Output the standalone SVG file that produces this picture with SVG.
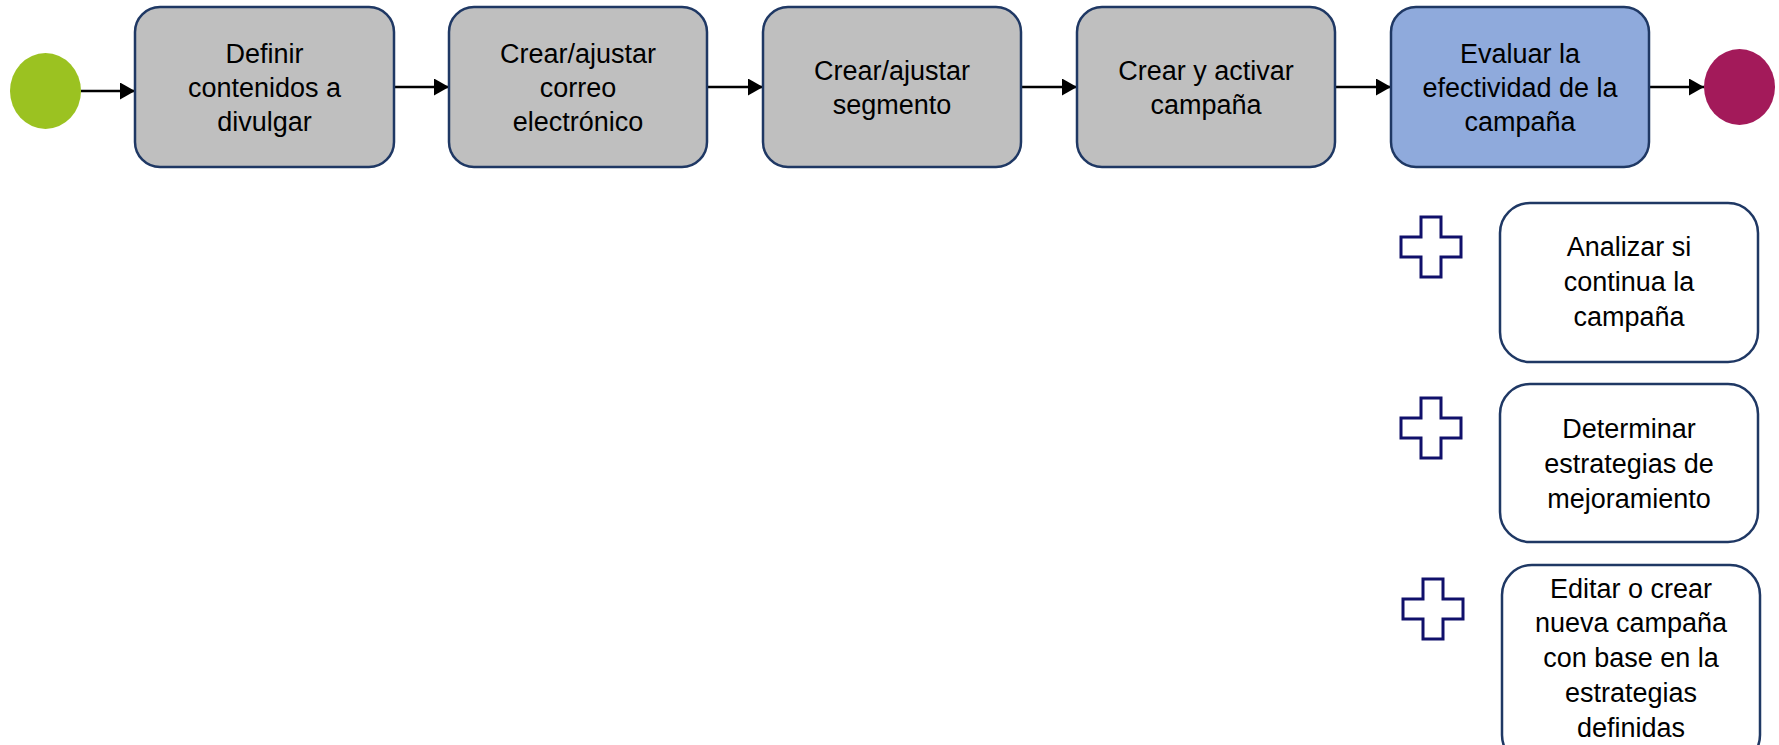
<svg xmlns="http://www.w3.org/2000/svg" width="1779" height="745" viewBox="0 0 1779 745">
<style>
  .task { stroke: #1F3864; stroke-width: 2.5; }
  .gray { fill: #BFBFBF; }
  .blue { fill: #8FAADC; }
  .sub { fill: #FFFFFF; stroke: #1F3864; stroke-width: 2.5; }
  .plus { fill: #FFFFFF; stroke: #10106B; stroke-width: 3; }
  .lbl { font-family: "Liberation Sans", Arial, sans-serif; font-size: 27px; fill: #000000; text-anchor: middle; }
  .conn { stroke: #000000; stroke-width: 2.5; fill: none; marker-end: url(#arrow); }
</style>
<defs>
  <marker id="arrow" markerWidth="15" markerHeight="17" refX="15" refY="8.5" orient="auto" markerUnits="userSpaceOnUse">
    <path d="M0,0 L15,8.5 L0,17 Z" fill="#000000"/>
  </marker>
  <path id="plusShape" d="M20,0 H40 V20 H60 V40 H40 V60 H20 V40 H0 V20 H20 Z"/>
</defs>
<rect width="1779" height="745" fill="#FFFFFF"/>

<g id="connectors">
  <line class="conn" x1="81" y1="91" x2="135" y2="91"/>
  <line class="conn" x1="394" y1="87" x2="449" y2="87"/>
  <line class="conn" x1="707" y1="87" x2="763" y2="87"/>
  <line class="conn" x1="1021" y1="87" x2="1077" y2="87"/>
  <line class="conn" x1="1335" y1="87" x2="1391" y2="87"/>
  <line class="conn" x1="1649" y1="87" x2="1704" y2="87"/>
</g>

<g id="start">
  <ellipse cx="45.5" cy="91" rx="35.5" ry="38" fill="#9BC221"/>
</g>

<g id="task1">
  <rect class="task gray" x="135" y="7" width="259" height="160" rx="25"/>
  <text class="lbl" x="264.5" y="63">Definir</text>
  <text class="lbl" x="264.5" y="97">contenidos a</text>
  <text class="lbl" x="264.5" y="131">divulgar</text>
</g>

<g id="task2">
  <rect class="task gray" x="449" y="7" width="258" height="160" rx="25"/>
  <text class="lbl" x="578" y="63">Crear/ajustar</text>
  <text class="lbl" x="578" y="97">correo</text>
  <text class="lbl" x="578" y="131">electrónico</text>
</g>

<g id="task3">
  <rect class="task gray" x="763" y="7" width="258" height="160" rx="25"/>
  <text class="lbl" x="892" y="80">Crear/ajustar</text>
  <text class="lbl" x="892" y="114">segmento</text>
</g>

<g id="task4">
  <rect class="task gray" x="1077" y="7" width="258" height="160" rx="25"/>
  <text class="lbl" x="1206" y="80">Crear y activar</text>
  <text class="lbl" x="1206" y="114">campaña</text>
</g>

<g id="task5">
  <rect class="task blue" x="1391" y="7" width="258" height="160" rx="25"/>
  <text class="lbl" x="1520" y="63">Evaluar la</text>
  <text class="lbl" x="1520" y="97">efectividad de la</text>
  <text class="lbl" x="1520" y="131">campaña</text>
</g>

<g id="end">
  <ellipse cx="1739.5" cy="87" rx="35.5" ry="38" fill="#A31A5A"/>
</g>

<g id="plus1">
  <use href="#plusShape" class="plus" x="1401" y="217"/>
</g>
<g id="sub1">
  <rect class="sub" x="1500" y="203" width="258" height="159" rx="30"/>
  <text class="lbl" x="1629" y="256">Analizar si</text>
  <text class="lbl" x="1629" y="291">continua la</text>
  <text class="lbl" x="1629" y="326">campaña</text>
</g>

<g id="plus2">
  <use href="#plusShape" class="plus" x="1401" y="398"/>
</g>
<g id="sub2">
  <rect class="sub" x="1500" y="384" width="258" height="158" rx="30"/>
  <text class="lbl" x="1629" y="438">Determinar</text>
  <text class="lbl" x="1629" y="473">estrategias de</text>
  <text class="lbl" x="1629" y="508">mejoramiento</text>
</g>

<g id="plus3">
  <use href="#plusShape" class="plus" x="1403" y="579"/>
</g>
<g id="sub3">
  <rect class="sub" x="1502" y="565" width="258" height="200" rx="30"/>
  <text class="lbl" x="1631" y="598">Editar o crear</text>
  <text class="lbl" x="1631" y="632">nueva campaña</text>
  <text class="lbl" x="1631" y="667">con base en la</text>
  <text class="lbl" x="1631" y="702">estrategias</text>
  <text class="lbl" x="1631" y="737">definidas</text>
</g>
</svg>
